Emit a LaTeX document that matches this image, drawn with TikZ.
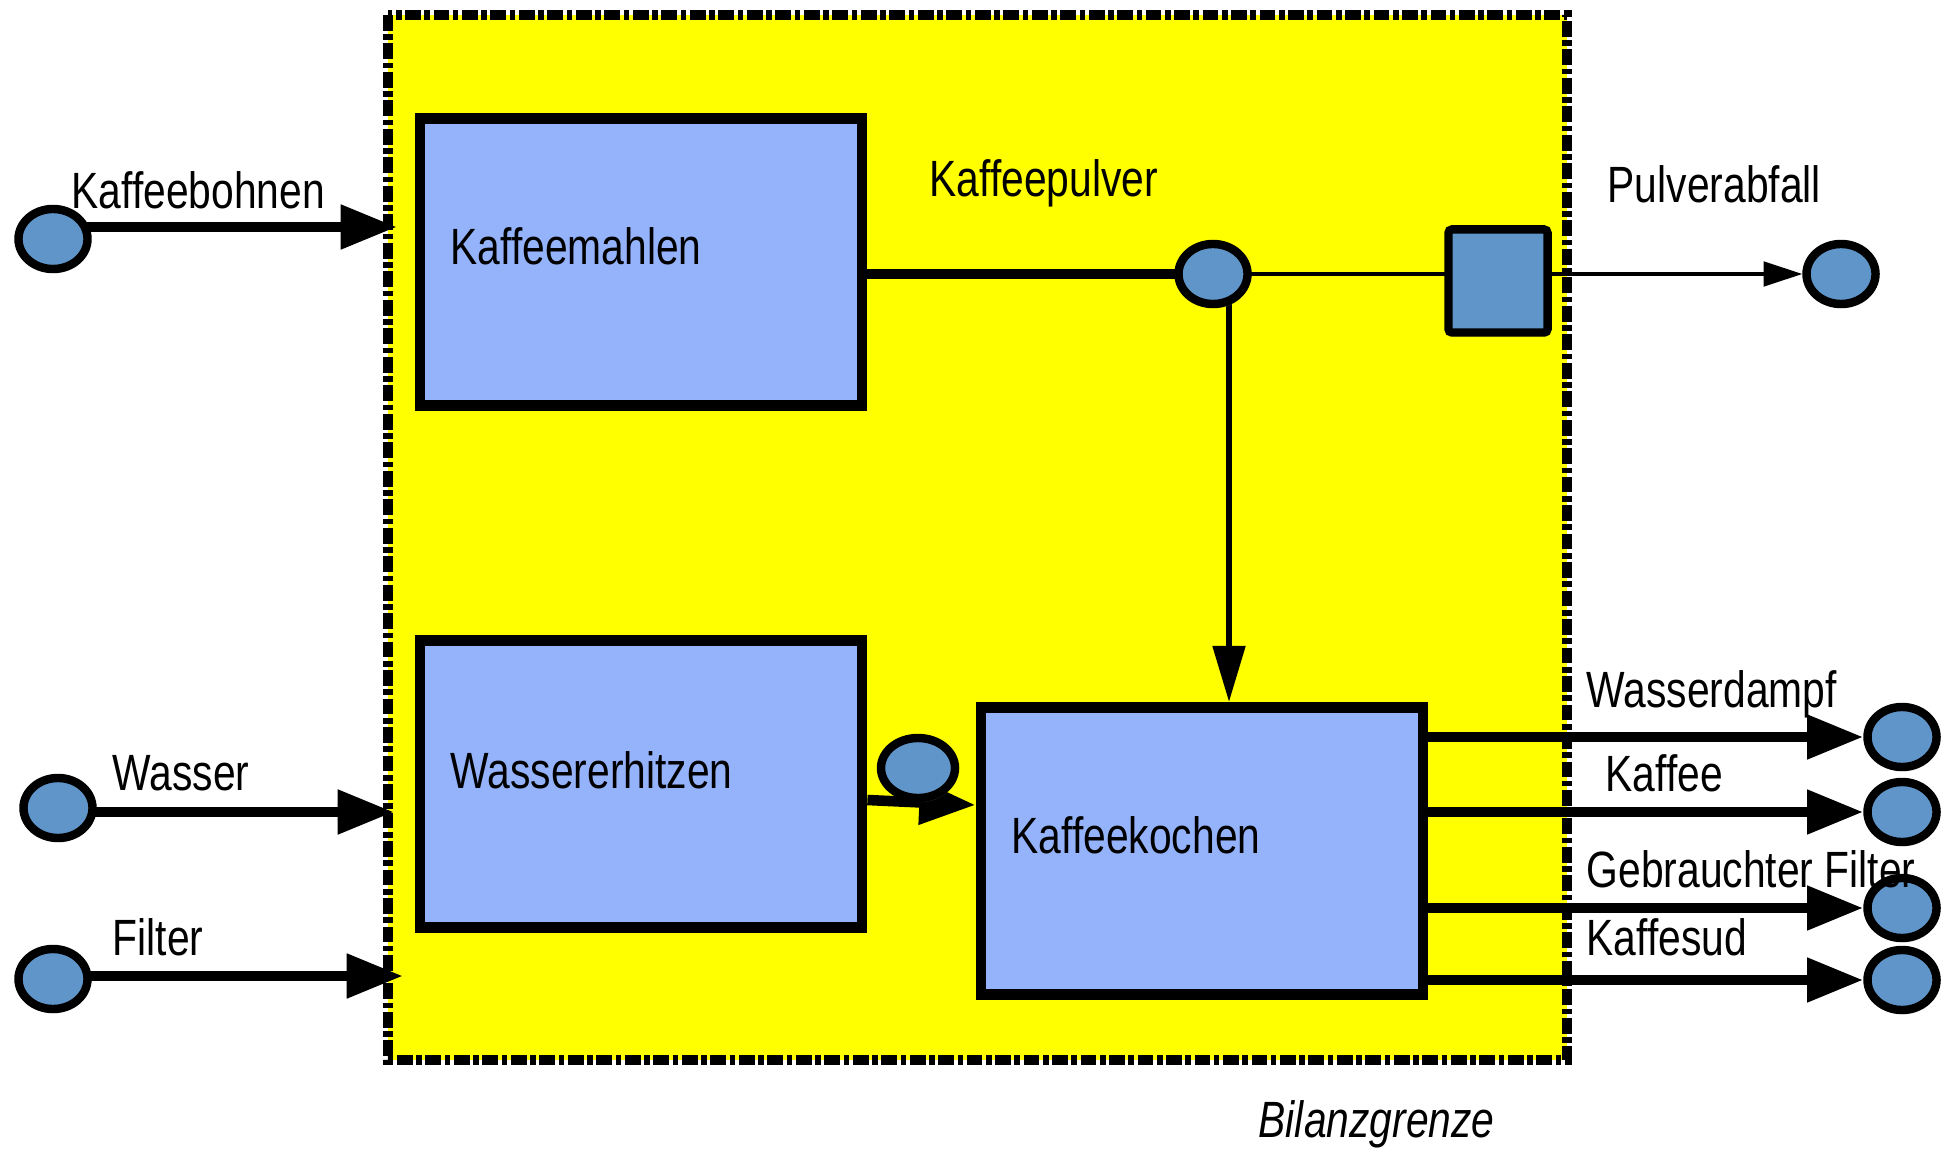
\documentclass[tikz,border=0pt]{standalone}
\usepackage{fontspec}
\setmainfont{Liberation Sans}
\usetikzlibrary{shapes.geometric,arrows.meta,shadows,calc}
\definecolor{boundyellow}{HTML}{FFFF00}
\definecolor{procblue}{HTML}{95B3FB}
\definecolor{portblue}{HTML}{6095C9}
\pgfdeclarelayer{bg}
\pgfdeclarelayer{lines}
\pgfsetlayers{bg,lines,main}
\newcommand{\nt}[1]{\scalebox{0.8}[1]{#1}}
\begin{document}
\begin{tikzpicture}[x=0.01cm,y=-0.01cm,
  proc/.style={draw=black, line width=3pt, fill=procblue, minimum width=4.42cm, minimum height=2.87cm, inner sep=0pt},
  port/.style={ellipse, draw=black, line width=2.4pt, fill=portblue, minimum width=0.69cm, minimum height=0.6cm, inner sep=0pt,
    drop shadow={shadow xshift=0.5pt, shadow yshift=-1.2pt, opacity=0.3}},
  valve/.style={draw=black, line width=2.4pt, fill=portblue, minimum width=0.99cm, minimum height=1.03cm, inner sep=0pt, rounded corners=1pt,
    drop shadow={shadow xshift=0.5pt, shadow yshift=-1.2pt, opacity=0.3}},
  lbl/.style={font=\fontsize{14.5}{16}\selectfont, inner sep=0pt, anchor=base west},
  flow/.style={line width=3pt, -{Triangle[length=16pt,width=12pt]}},
  thinflow/.style={line width=0.9pt, -{Triangle[length=11pt,width=7pt]}},
  vflow/.style={line width=1.8pt, -{Triangle[length=16pt,width=9pt]}},
  bound/.style={draw=black, fill=boundyellow, line width=2.6pt, dash pattern=on 4.5pt off 1pt on 1.6pt off 1pt}
]
\useasboundingbox (0,0) rectangle (1943,1149);

\begin{pgfonlayer}{bg}
  \path[bound] (388,15) rectangle (1567,1060);
\end{pgfonlayer}

% process boxes
\node[proc] (km) at (641,262) {};
\node[proc] (we) at (641,784) {};
\node[proc] (kk) at (1202,851) {};

% ports
\node[port] (kb) at (53,239) {};
\node[port] (w) at (58,808) {};
\node[port] (f) at (53,979) {};
\node[port] (kp) at (1213,274) {};
\node[port, minimum width=0.74cm, minimum height=0.6cm] (weo) at (918,768) {};
\node[port] (pa) at (1841,274) {};
\node[port] (o1) at (1902,737) {};
\node[port] (o2) at (1902,812) {};
\node[port] (o3) at (1902,908) {};
\node[port] (o4) at (1902,980) {};
\node[valve] (sq) at (1498,281) {};

% labels
\node[lbl] (tkb) at (71,209) {\nt{Kaffeebohnen}};
\node[lbl] (tkm) at (450,265) {\nt{Kaffeemahlen}};
\node[lbl] (tkp) at (929,197) {\nt{Kaffeepulver}};
\node[lbl] (tpa) at (1607,203) {\nt{Pulverabfall}};
\node[lbl] (tw) at (112,790) {\nt{Wasser}};
\node[lbl] (tf) at (112,955) {\nt{Filter}};
\node[lbl] (twe) at (450,788) {\nt{Wassererhitzen}};
\node[lbl] (tkk) at (1011,853) {\nt{Kaffeekochen}};
\node[lbl] (to1) at (1586,707) {\nt{Wasserdampf}};
\node[lbl] (to2) at (1605,791) {\nt{Kaffee}};
\node[lbl] (to3) at (1586,887) {\nt{Gebrauchter Filter}};
\node[lbl] (to4) at (1586,955) {\nt{Kaffesud}};
\node[lbl] (tbg) at (1258,1137) {\nt{\itshape Bilanzgrenze}};

% free ends at the balance boundary
\coordinate (kbin) at (397,227);
\coordinate (win) at (394,812);
\coordinate (fin) at (403,976);
\coordinate (vx) at (1229,0);

\begin{pgfonlayer}{lines}
  \draw[flow] (kb.center |- kbin) -- (kbin);
  \draw[flow] (w.center |- win) -- (win);
  \draw[flow] (f.center |- fin) -- (fin);
  \draw[line width=2.8pt] (km.east |- kp) -- (kp.center);
  \draw[line width=0.9pt] (kp.center) -- (sq.center |- kp.center);
  \draw[thinflow] (sq.center |- pa) -- (pa.west);
  \draw[vflow] (vx |- kp.center) -- (vx |- kk.north);
  \draw[flow] ($(we.east)+(0,16)$) -- ($(kk.west)+(0,-46)$);
  \draw[flow] (kk.east |- o1) -- (o1.west);
  \draw[flow] (kk.east |- o2) -- (o2.west);
  \draw[flow] (kk.east |- o3) -- (o3.west);
  \draw[flow] (kk.east |- o4) -- (o4.west);
\end{pgfonlayer}
\end{tikzpicture}
\end{document}
